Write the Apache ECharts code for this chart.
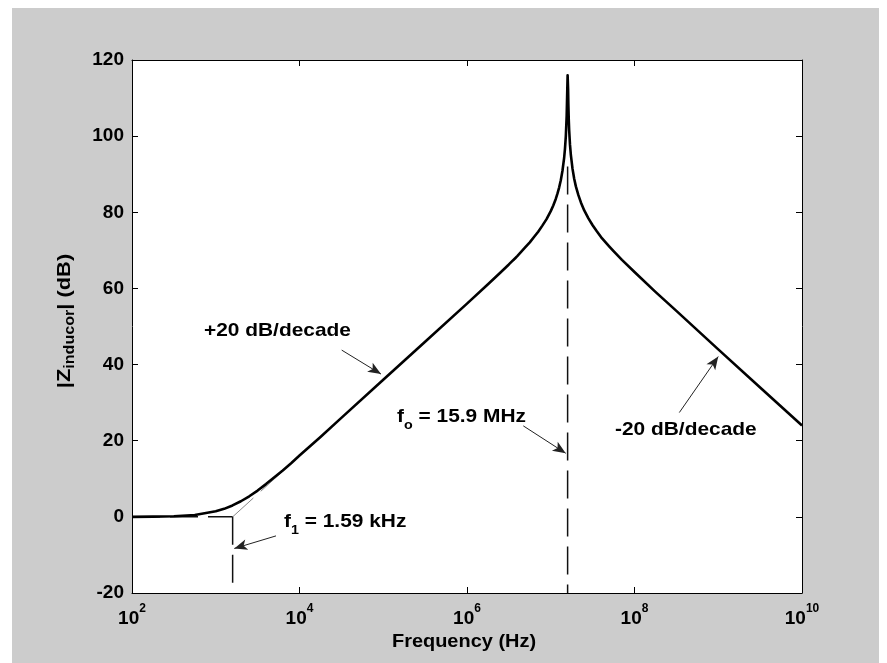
<!DOCTYPE html>
<html>
<head>
<meta charset="utf-8">
<script src="https://cdn.jsdelivr.net/npm/echarts@6/dist/echarts.min.js"></script>
<style>
  html, body { margin: 0; padding: 0; background: #ffffff; }
  #frame { position: absolute; left: 12px; top: 8px; width: 867px; height: 655px; background: #cccccc; }
  #chart { position: absolute; left: 0; top: 0; width: 887px; height: 663px; }
</style>
</head>
<body>
<div id="frame"></div>
<div id="chart"></div>
<script>
// Impedance magnitude of a real inductor (series R, parallel C), in dB
const freqHz = [100, 178, 316, 562, 1000, 1259, 1585, 1995, 2512, 3162, 3981, 5012, 6310, 7943,
  1e4, 1.78e4, 3.16e4, 1e5, 3.16e5, 1e6, 1.78e6, 2.51e6, 3.16e6, 3.98e6, 5.01e6, 5.62e6, 6.31e6,
  7.08e6, 7.94e6, 8.91e6, 1e7, 1.072e7, 1.148e7, 1.202e7, 1.259e7, 1.318e7, 1.380e7, 1.445e7,
  1.479e7, 1.514e7, 1.549e7, 1.567e7, 1.59e7, 1.611e7, 1.622e7, 1.641e7, 1.660e7, 1.698e7,
  1.738e7, 1.820e7, 1.905e7, 1.995e7, 2.138e7, 2.291e7, 2.512e7, 2.818e7, 3.162e7, 3.548e7,
  3.981e7, 5.012e7, 5.623e7, 7.079e7, 1e8, 1.778e8, 3.162e8, 1e9, 3.162e9, 1e10];
const magnitudeDb = [0.0, 0.05, 0.17, 0.5, 1.45, 2.1, 3.0, 4.1, 5.4, 6.9, 8.6, 10.4, 12.2, 14.1,
  16.1, 21.0, 26.0, 36.0, 46.0, 56.0, 61.1, 64.2, 66.3, 68.5, 70.9, 72.1, 73.5,
  74.9, 76.5, 78.2, 80.3, 81.8, 83.5, 84.9, 86.5, 88.4, 90.9, 94.3,
  96.7, 100.0, 105.3, 110.1, 116.0, 112.4, 108.5, 104.3, 101.5, 97.7,
  95.1, 91.4, 88.8, 86.8, 84.5, 82.6, 80.5, 78.4, 76.6, 75.0,
  73.5, 71.0, 69.8, 67.5, 64.3, 59.1, 54.1, 44.0, 34.0, 24.0];

// Straight-line asymptotes and the two marked frequencies
const flatAsymptoteHz = [100, 1591];
const flatAsymptoteDb = [0, 0];
const riseAsymptoteHz = [1591, 3.98e6];
const riseAsymptoteDb = [0, 68];
const cornerMarkerHz = [1591, 1591];
const cornerMarkerDb = [0, -17.6];
const resonanceMarkerHz = [1.59e7, 1.59e7];
const resonanceMarkerDb = [92, -20];

// Axis ticks
const xTickExponents = [2, 4, 6, 8, 10];
const yTicks = [-20, 0, 20, 40, 60, 80, 100, 120];

// Annotation texts, anchors (left edge, middle) and arrows, in data units
const notes = [
  { text: '{m|+20 dB/decade}', at: [724, 48.8] },
  { text: '{m|f}{s|o}{m| = 15.9 MHz}', at: [1.459e5, 26.2] },
  { text: '{m|-20 dB/decade}', at: [5.85e7, 22.8] },
  { text: '{m|f}{s|1}{m| = 1.59 kHz}', at: [6531, -1.2] }
];
const arrowFrom = [[3.19e4, 43.8], [4.70e6, 23.9], [3.43e8, 27.4], [5.24e3, -5.0]];
const arrowTo   = [[9.4e4, 37.5], [1.51e7, 16.7], [1.0e9, 42.1], [1.665e3, -8.3]];

const FONT = "'Liberation Sans', Arial, Helvetica, sans-serif";
const pairs = (xs, ys) => xs.map((x, i) => [x, ys[i]]);

const chart = echarts.init(document.getElementById('chart'), null, { renderer: 'canvas' });

const tickCommon = { show: true, inside: true, length: 6, lineStyle: { color: '#000', width: 1 } };
const lineCommon = { show: true, onZero: false, lineStyle: { color: '#000', width: 1 } };

const guide = (name, xs, ys, color, width, dash) => ({
  name, type: 'line', data: pairs(xs, ys), symbol: 'none', silent: true,
  lineStyle: { color, width, type: dash }, z: 2, animation: false
});

chart.setOption({
  backgroundColor: 'transparent',
  animation: false,
  grid: { left: 132, right: 85, top: 60, bottom: 70, show: true, backgroundColor: '#ffffff', borderWidth: 0 },
  xAxis: [{
    type: 'log', logBase: 10, min: 100, max: 1e10, interval: 2,
    axisLine: lineCommon, axisTick: tickCommon, splitLine: { show: false },
    axisLabel: {
      margin: 16,
      formatter: v => {
        const e = Math.round(Math.log10(v));
        return xTickExponents.includes(e) ? '{b|10}{s|' + e + '}' : '';
      },
      rich: {
        b: { fontFamily: FONT, fontWeight: 'bold', fontSize: 19, color: '#000', lineHeight: 20 },
        s: { fontFamily: FONT, fontWeight: 'bold', fontSize: 12, color: '#000', lineHeight: 12, padding: [0, 0, 20, 0] }
      }
    }
  }, {
    type: 'log', logBase: 10, min: 100, max: 1e10, interval: 2, position: 'top',
    axisLine: lineCommon, axisTick: tickCommon, axisLabel: { show: false }, splitLine: { show: false }
  }],
  yAxis: [{
    type: 'value', min: yTicks[0], max: yTicks[yTicks.length - 1], interval: 20,
    axisLine: lineCommon, axisTick: tickCommon, splitLine: { show: false },
    axisLabel: { margin: 8, fontFamily: FONT, fontWeight: 'bold', fontSize: 19, color: '#000' }
  }, {
    type: 'value', min: yTicks[0], max: yTicks[yTicks.length - 1], interval: 20, position: 'right',
    axisLine: lineCommon, axisTick: tickCommon, axisLabel: { show: false }, splitLine: { show: false }
  }],
  series: [
    guide('flat asymptote', flatAsymptoteHz, flatAsymptoteDb, '#111', 1.5, [28, 10]),
    guide('rise asymptote', riseAsymptoteHz, riseAsymptoteDb, '#888', 1, [28, 10]),
    guide('f1 marker', cornerMarkerHz, cornerMarkerDb, '#111', 1.5, [28, 10]),
    guide('f0 marker', resonanceMarkerHz, resonanceMarkerDb, '#111', 1.5, [28, 10]),
    {
      name: '|Z|', type: 'line', data: pairs(freqHz, magnitudeDb), symbol: 'none', silent: true,
      lineStyle: { color: '#000', width: 2.6, join: 'round' }, z: 3
    },
    {
      name: 'arrows', type: 'line', data: [], symbol: 'none', silent: true, z: 4,
      markLine: {
        silent: true, animation: false,
        symbol: ['none', 'arrow'], symbolSize: [8, 13],
        label: { show: false },
        lineStyle: { color: '#222', width: 1, type: 'solid' },
        emphasis: { disabled: true },
        data: arrowFrom.map((p, i) => [{ coord: p }, { coord: arrowTo[i] }])
      }
    }
  ]
});

// Text elements placed from data coordinates and grid geometry
function place() {
  const toPx = p => chart.convertToPixel({ xAxisIndex: 0, yAxisIndex: 0 }, p);
  const richNote = {
    m: { fontFamily: FONT, fontWeight: 'bold', fontSize: 19, color: '#000', lineHeight: 22 },
    s: { fontFamily: FONT, fontWeight: 'bold', fontSize: 13, color: '#000', lineHeight: 13, padding: [17, 0, 0, 0] }
  };
  const graphics = notes.map(n => {
    const [x, y] = toPx(n.at);
    return {
      type: 'text', x, y, scaleX: 1.1, silent: true, z: 10,
      style: { text: n.text, rich: richNote, align: 'left', verticalAlign: 'middle' }
    };
  });
  graphics.push({
    type: 'text', x: 464, y: 642, scaleX: 1.05, silent: true, z: 10,
    style: { text: 'Frequency (Hz)', fontFamily: FONT, fontWeight: 'bold', fontSize: 19, fill: '#000', align: 'center', verticalAlign: 'middle' }
  });
  graphics.push({
    type: 'text', x: 65, y: 321, rotation: Math.PI / 2, scaleX: 1.15, silent: true, z: 10,
    style: {
      text: '{m||Z}{s|inducor}{m|| (dB)}', align: 'center', verticalAlign: 'middle',
      rich: {
        m: { fontFamily: FONT, fontWeight: 'bold', fontSize: 19, color: '#000', lineHeight: 22 },
        s: { fontFamily: FONT, fontWeight: 'bold', fontSize: 14, color: '#000', lineHeight: 14, padding: [10, 0, 0, 0] }
      }
    }
  });
  chart.setOption({ graphic: graphics });
}
place();
</script>
</body>
</html>
